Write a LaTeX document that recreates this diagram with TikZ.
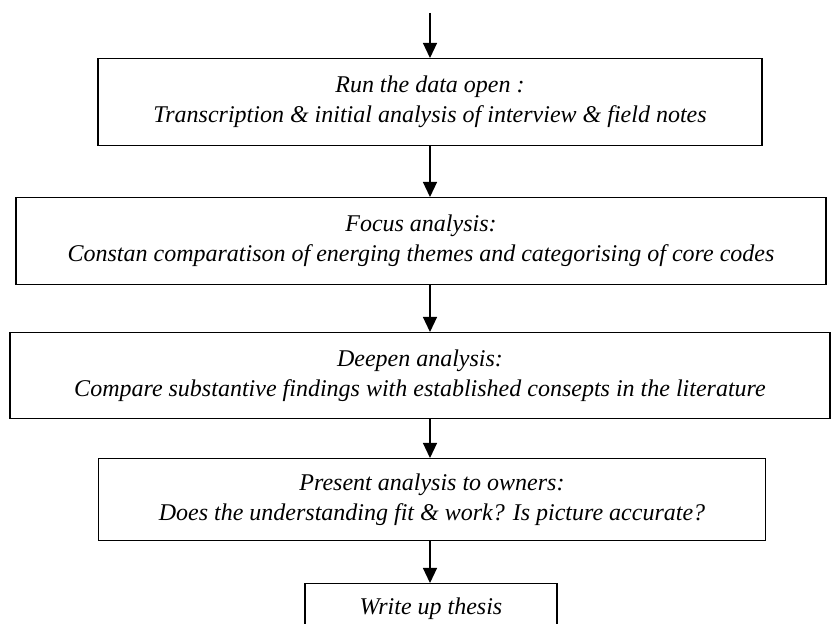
\documentclass[tikz,border=0pt]{standalone}
\usepackage{fontspec}
\setmainfont{Liberation Serif}
\usetikzlibrary{positioning,arrows.meta}

\begin{document}
\begin{tikzpicture}[x=0.5pt, y=-0.5pt,
        stage/.style={draw, line width=0.7pt, rectangle, align=center, anchor=north, inner sep=0pt,
            font=\itshape\fontsize{12}{15}\selectfont},
        flow/.style={-{Triangle[length=7.5pt,width=7pt]}, line width=0.6pt}]
        \useasboundingbox (0, 0) rectangle (832, 624);

        \coordinate (start) at (430, 13);
        \node[stage, minimum width=332pt, minimum height=43.5pt] (run) at (430, 58)
            {Run the data open :\\Transcription \& initial analysis of interview \& field notes};
        \node[stage, minimum width=405pt, minimum height=43.5pt] (focus) at (421, 197)
            {Focus analysis:\\Constan comparatison of energing themes and categorising of core codes};
        \node[stage, minimum width=410pt, minimum height=43pt] (deepen) at (420, 332)
            {Deepen analysis:\\Compare substantive findings with established consepts in the literature};
        \node[stage, minimum width=333.5pt, minimum height=41pt] (present) at (432, 458)
            {Present analysis to owners:\\Does the understanding fit \& work? Is picture accurate?};
        \node[stage, minimum width=126pt, minimum height=25pt] (writeup) at (431, 583) {Write up thesis};

        \draw[flow] (start) -- (run.north);
        \draw[flow] (run.south) -- (run.south |- focus.north);
        \draw[flow] (run.south |- focus.south) -- (run.south |- deepen.north);
        \draw[flow] (run.south |- deepen.south) -- (run.south |- present.north);
        \draw[flow] (run.south |- present.south) -- (run.south |- writeup.north);
    \end{tikzpicture}
\end{document}
